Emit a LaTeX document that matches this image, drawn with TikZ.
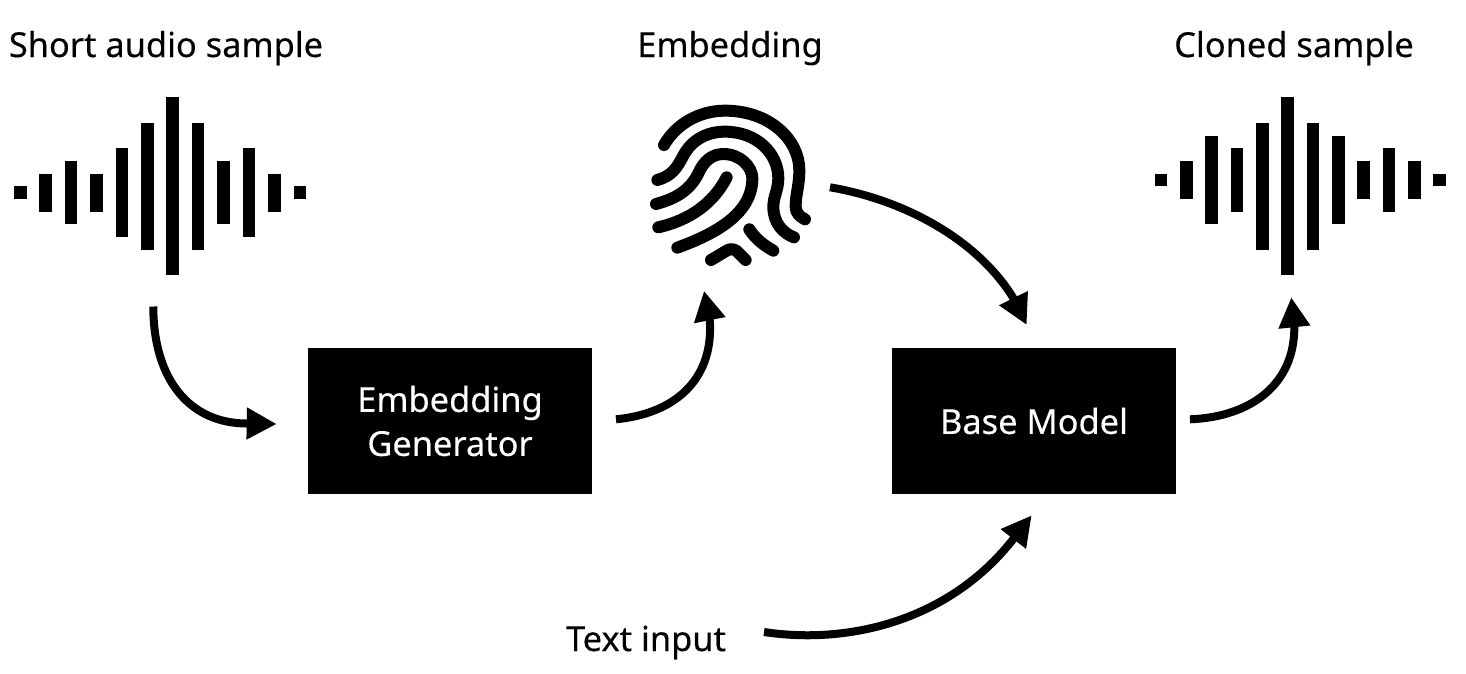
\documentclass[tikz,border=0pt]{standalone}
\usepackage{fontspec}
\setmainfont[FakeBold=0.25]{Noto Sans}
\usetikzlibrary{arrows.meta}
\tikzset{
  flow/.style={line width=8pt,-{Triangle[length=30pt,width=30pt]}},
  ridge/.style={line width=12pt,line cap=round,line join=round},
  blackbox/.style={fill=black,draw=none,minimum width=284pt,minimum height=146pt,inner sep=0pt,text=white,align=center,font=\fontsize{34.4}{44}\selectfont},
  caption/.style={font=\fontsize{34.4}{44}\selectfont,anchor=base,inner sep=0pt,text=black},
}
\begin{document}
\begin{tikzpicture}[x=1pt,y=-1pt]
\useasboundingbox (0,0) rectangle (1466,673);
% waveforms (coordinates as measured, at 3x)
\begin{scope}[shift={(0,90)},x=0.3333pt,y=-0.3333pt]
\foreach \cx/\t/\b in {61/289/327,137/251/365,213/213/403,290/251/365,366/175/441,442/98/480,518/22/556,594/98/480,671/213/403,747/175/441,823/251/365,900/289/327}
  \fill (\cx-19,\t) rectangle (\cx+19,\b);
\end{scope}
\begin{scope}[shift={(1146,90)},x=0.3333pt,y=-0.3333pt]
\foreach \cx/\t/\b in {45/251/289,121/213/327,197/137/403,273/175/365,349/98/480,425/22/556,501/98/480,577/137/403,653/213/327,729/175/365,805/213/327,881/251/289}
  \fill (\cx-19,\t) rectangle (\cx+19,\b);
\end{scope}
% fingerprint
\begin{scope}[shift={(630,90)},x=0.3333pt,y=-0.3333pt]
\draw[ridge] (102,165) .. controls (140,100) and (210,62) .. (285,62) .. controls (420,62) and (508,150) .. (508,240) .. controls (508,290) and (497,310) .. (497,350) .. controls (497,370) and (510,380) .. (525,388);
\draw[ridge] (82,270) .. controls (125,258) and (140,235) .. (160,197) .. controls (185,150) and (230,125) .. (285,125) .. controls (380,125) and (445,190) .. (445,265) .. controls (445,300) and (430,320) .. (430,350) .. controls (430,400) and (460,430) .. (492,442);
\draw[ridge] (78,342) .. controls (140,325) and (180,300) .. (205,250) .. controls (220,215) and (245,192) .. (280,192) .. controls (330,192) and (367,230) .. (367,265) .. controls (367,370) and (260,430) .. (142,473);
\draw[ridge] (85,412) .. controls (180,390) and (250,340) .. (290,262);
\draw[ridge] (358,418) .. controls (375,445) and (400,465) .. (430,482);
\draw[ridge] (243,510) -- (290,482) .. controls (300,476) and (310,476) .. (320,483) -- (347,510);
\end{scope}
% labels
\node[caption] (short) at (166,57) {Short audio sample};
\node[caption] (emb) at (730,57) {Embedding};
\node[caption] (clone) at (1294,57) {Cloned sample};
\node[caption] (text) at (646,651) {Text input};
% boxes
\node[blackbox] (gen) at (450,421) {Embedding\\Generator};
\node[blackbox] (base) at (1034,421) {Base Model};
% connector ends
\coordinate (a1s) at (153.3,306.5); \coordinate (a1b) at (247,423.5); \coordinate (a1t) at (276.7,424);
\coordinate (a2s) at (616,419.3); \coordinate (a2b) at (709.7,319.7); \coordinate (a2t) at (704,290.7);
\coordinate (a3s) at (830,187.3); \coordinate (a3b) at (1013.7,298.7); \coordinate (a3t) at (1026.7,325);
\coordinate (a4s) at (1190,419.3); \coordinate (a4b) at (1294.3,326.3); \coordinate (a4t) at (1291.3,297.3);
\coordinate (a5s) at (764,632); \coordinate (a5b) at (1013.3,539); \coordinate (a5t) at (1031.7,515.3);
\draw[flow] (a1s) .. controls (153.3,380) and (190,423.5) .. (a1b) -- (a1t);
\draw[flow] (a2s) .. controls (680,413) and (714,375) .. (a2b) -- (a2t);
\draw[flow] (a3s) .. controls (905,200) and (978,240) .. (a3b) -- (a3t);
\draw[flow] (a4s) .. controls (1250,417) and (1295,385) .. (a4b) -- (a4t);
\draw[flow] (a5s) .. controls (850,645) and (950,620) .. (a5b) -- (a5t);
\end{tikzpicture}
\end{document}
